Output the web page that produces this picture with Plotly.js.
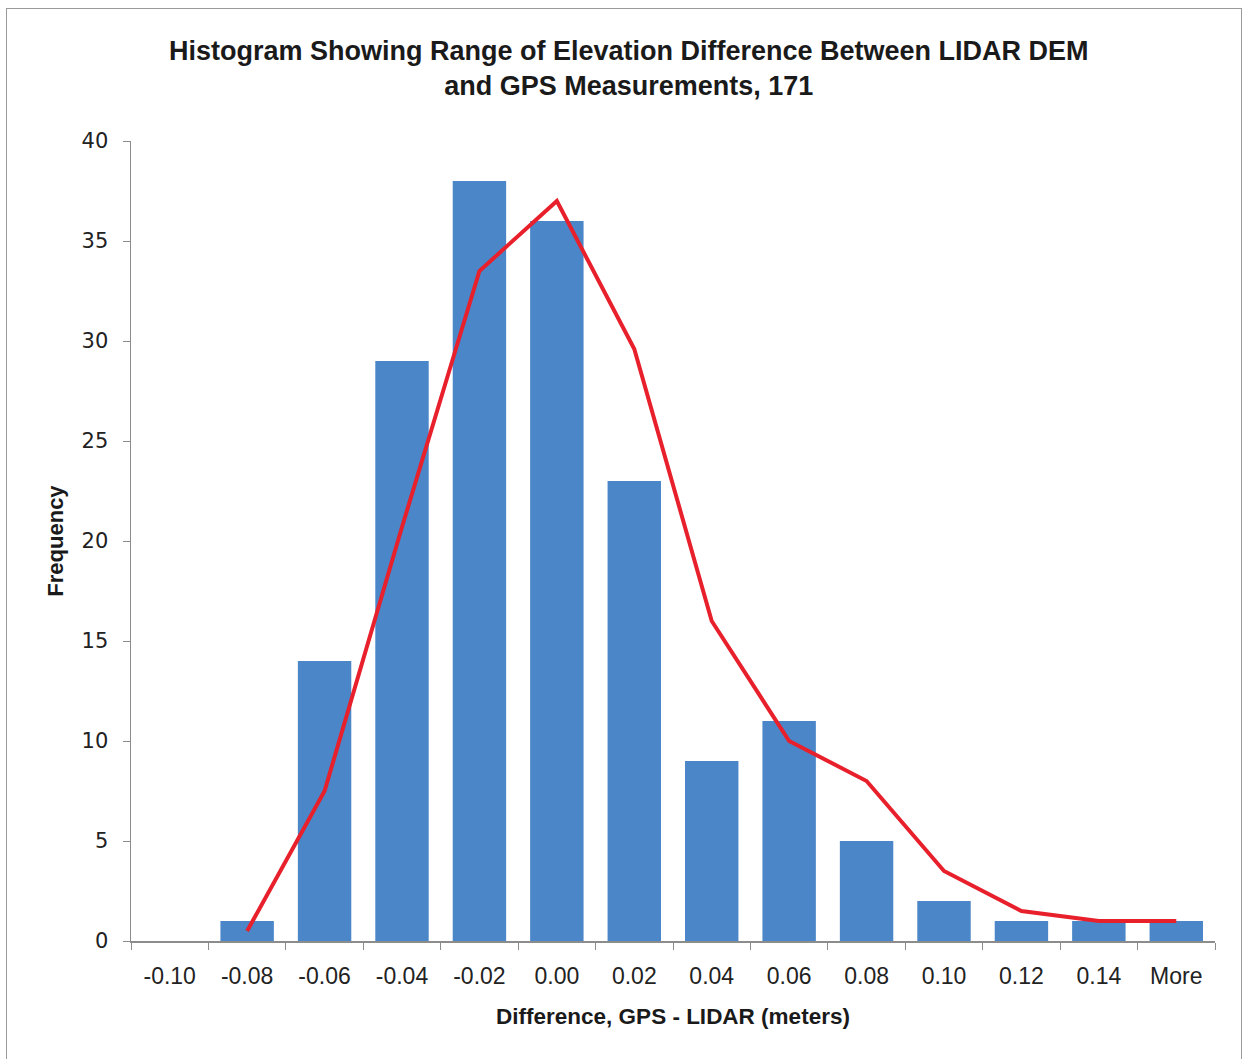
<!DOCTYPE html>
<html>
<head>
<meta charset="utf-8">
<script src="https://cdn.plot.ly/plotly-3.0.1.min.js"></script>
<style>
  html, body { margin: 0; padding: 0; background: #fff; }
  #frame { position: absolute; left: 6px; top: 8px; width: 1236px; height: 1060px; border: 1.5px solid #9a9a9a; box-sizing: border-box; }
  #chart { position: absolute; left: 0; top: 0; width: 1245px; height: 1059px; }
</style>
</head>
<body>
<div id="frame"></div>
<div id="chart"></div>
<script>
const categories = ["-0.10", "-0.08", "-0.06", "-0.04", "-0.02", "0.00", "0.02", "0.04", "0.06", "0.08", "0.10", "0.12", "0.14", "More"];
const frequency = [0, 1, 14, 29, 38, 36, 23, 9, 11, 5, 2, 1, 1, 1];
const curveCategories = ["-0.08", "-0.06", "-0.04", "-0.02", "0.00", "0.02", "0.04", "0.06", "0.08", "0.10", "0.12", "0.14", "More"];
const curveValues = [0.5, 7.5, 20.7, 33.5, 37, 29.6, 16, 10, 8, 3.5, 1.5, 1, 1];
const yTicks = [0, 5, 10, 15, 20, 25, 30, 35, 40];

const bars = {
  type: "bar",
  x: categories,
  y: frequency,
  marker: { color: "#4a86c8" },
  hoverinfo: "x+y"
};
const curve = {
  type: "scatter",
  mode: "lines",
  x: curveCategories,
  y: curveValues,
  line: { color: "#e8202c", width: 4 },
  hoverinfo: "x+y"
};

const layout = {
  width: 1245,
  height: 1059,
  paper_bgcolor: "rgba(0,0,0,0)",
  plot_bgcolor: "#ffffff",
  showlegend: false,
  bargap: 0.31,
  margin: { l: 131, r: 30, t: 141, b: 118 },
  title: {
    text: "Histogram Showing Range of Elevation Difference Between LIDAR DEM<br>and GPS Measurements, 171",
    font: { family: "Liberation Sans, Arial, sans-serif", size: 27, color: "#1a1a1a", weight: "bold" },
    x: 0.505, xanchor: "center",
    y: 0.943, yanchor: "top"
  },
  xaxis: {
    type: "category",
    categoryorder: "array",
    categoryarray: categories,
    showline: true,
    linecolor: "#8c8c8c",
    linewidth: 1.5,
    ticks: "outside",
    tickson: "boundaries",
    ticklen: 7,
    tickcolor: "#8c8c8c",
    tickfont: { family: "Liberation Sans, Arial, sans-serif", size: 23, color: "#222" },
    ticklabelstandoff: 14,
    showgrid: false,
    zeroline: false,
    title: {
      text: "Difference, GPS - LIDAR (meters)",
      font: { family: "Liberation Sans, Arial, sans-serif", size: 22.5, color: "#1a1a1a", weight: "bold" },
      standoff: 20
    }
  },
  yaxis: {
    range: [0, 40],
    tickvals: yTicks,
    showline: true,
    linecolor: "#8c8c8c",
    linewidth: 1.5,
    ticks: "outside",
    ticklen: 7,
    tickcolor: "#8c8c8c",
    tickfont: { family: "DejaVu Sans, sans-serif", size: 21, color: "#222" },
    ticklabelstandoff: 10,
    showgrid: false,
    zeroline: false,
    title: {
      text: "Frequency",
      font: { family: "Liberation Sans, Arial, sans-serif", size: 22, color: "#1a1a1a", weight: "bold" },
      standoff: 12
    }
  }
};

Plotly.newPlot("chart", [bars, curve], layout, { displayModeBar: false, staticPlot: true });
</script>
</body>
</html>
